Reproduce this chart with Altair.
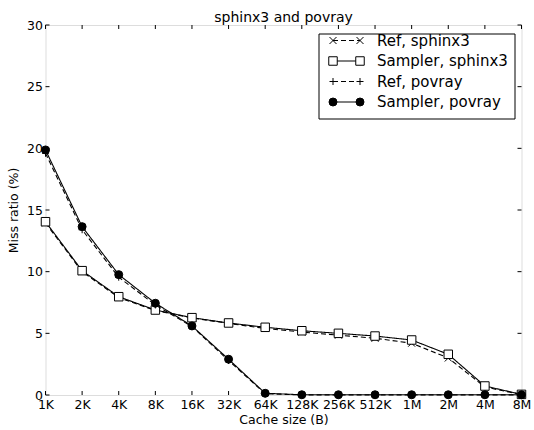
import altair as alt
import pandas as pd

cats = ["1K", "2K", "4K", "8K", "16K", "32K", "64K", "128K", "256K", "512K", "1M", "2M", "4M", "8M"]
ref_sphinx3 = [13.95, 10.0, 7.9, 6.85, 6.25, 5.8, 5.4, 5.1, 4.85, 4.6, 4.2, 3.0, 0.65, 0.03]
samp_sphinx3 = [14.05, 10.08, 7.97, 6.89, 6.27, 5.84, 5.49, 5.21, 5.0, 4.78, 4.46, 3.3, 0.73, 0.05]
ref_povray = [19.6, 13.4, 9.55, 7.3, 5.55, 2.8, 0.1, 0.01, 0.01, 0.01, 0.01, 0.01, 0.01, 0.01]
samp_povray = [19.87, 13.65, 9.76, 7.44, 5.6, 2.9, 0.14, 0.02, 0.02, 0.02, 0.02, 0.02, 0.02, 0.02]
y_ticks = [0, 5, 10, 15, 20, 25, 30]

series_names = ["Ref, sphinx3", "Sampler, sphinx3", "Ref, povray", "Sampler, povray"]
series_vals = [ref_sphinx3, samp_sphinx3, ref_povray, samp_povray]

rows = []
for name, vals in zip(series_names, series_vals):
    for c, v in zip(cats, vals):
        rows.append({"size": c, "ratio": v, "series": name})
df = pd.DataFrame(rows)

W, H = 476, 370
OX, OY = 45.5, 25
FONT = "DejaVu Sans"
X_PATH = "M-1,-1L1,1M-1,1L1,-1"
P_PATH = "M-1,0L1,0M0,-1L0,1"

styles = {
    "Ref, sphinx3": dict(dash=[5, 3], shape=X_PATH, size=49, filled=False, fill="transparent"),
    "Sampler, sphinx3": dict(dash=[1, 0], shape="square", size=72, filled=True, fill="white"),
    "Ref, povray": dict(dash=[5, 3], shape=P_PATH, size=49, filled=False, fill="transparent"),
    "Sampler, povray": dict(dash=[1, 0], shape="circle", size=64, filled=True, fill="black"),
}

xscale = alt.Scale(type="point", padding=0)
yscale = alt.Scale(domain=[0, 30], nice=False)

x_axis = alt.Axis(orient="bottom", title="Cache size (B)", ticks=False, domain=False, grid=False,
                  labelAngle=0, labelPadding=3, labelFontSize=12.5, titleFontSize=12.5,
                  titleFontWeight="normal", titlePadding=3, labelFont=FONT, titleFont=FONT,
                  labelColor="black", titleColor="black")
y_axis = alt.Axis(orient="left", title="Miss ratio (%)", ticks=False, domain=False, grid=False,
                  values=y_ticks, labelPadding=3, labelFontSize=12.5,
                  titleFontSize=12.5, titleFontWeight="normal", titlePadding=6,
                  labelFont=FONT, titleFont=FONT, labelColor="black", titleColor="black")

X = alt.X("size:O", sort=cats, scale=xscale, axis=x_axis)
Y = alt.Y("ratio:Q", scale=yscale, axis=y_axis)

base = alt.Chart(df)
layers = []
for name in series_names:
    st = styles[name]
    line = base.transform_filter(alt.datum.series == name).mark_line(
        color="black", strokeWidth=1.1, strokeDash=st["dash"]
    ).encode(x=X, y=Y)
    pts = base.transform_filter(alt.datum.series == name).mark_point(
        shape=st["shape"], size=st["size"], filled=st["filled"], fill=st["fill"],
        stroke="black", strokeWidth=1, opacity=1
    ).encode(x=X, y=Y)
    layers += [line, pts]

# inward tick marks on all four sides (positioned by the scales)
xt = pd.DataFrame({"size": cats})
yt = pd.DataFrame({"ratio": y_ticks})
tick_layers = [
    alt.Chart(xt).mark_rule(color="black", strokeWidth=1).encode(
        x=X, y=alt.value(H), y2=alt.value(H - 4)),
    alt.Chart(xt).mark_rule(color="black", strokeWidth=1).encode(
        x=X, y=alt.value(0), y2=alt.value(4)),
    alt.Chart(yt).mark_rule(color="black", strokeWidth=1).encode(
        y=Y, x=alt.value(0), x2=alt.value(4)),
    alt.Chart(yt).mark_rule(color="black", strokeWidth=1).encode(
        y=Y, x=alt.value(W - 4), x2=alt.value(W)),
]

# legend box (coordinates relative to the plot origin)
leg_x0, leg_x1, leg_y0, leg_y1 = 319 - OX, 515 - OX, 34 - OY, 119 - OY
legend_layers = [
    alt.Chart(pd.DataFrame({"k": [0]})).mark_rect(fill="white", stroke="black", strokeWidth=1).encode(
        x=alt.value(leg_x0), x2=alt.value(leg_x1), y=alt.value(leg_y0), y2=alt.value(leg_y1))
]
row_y = [40.5 - OY, 61 - OY, 81.5 - OY, 102 - OY]
for name, ry in zip(series_names, row_y):
    st = styles[name]
    d = pd.DataFrame({"label": [name]})
    legend_layers.append(
        alt.Chart(d).mark_rule(color="black", strokeWidth=1.1, strokeDash=st["dash"]).encode(
            x=alt.value(333 - OX), x2=alt.value(360 - OX), y=alt.value(ry)))
    for px in (333, 360):
        legend_layers.append(
            alt.Chart(d).mark_point(shape=st["shape"], size=st["size"], filled=st["filled"],
                                    fill=st["fill"], stroke="black", strokeWidth=1, opacity=1).encode(
                x=alt.value(px - OX), y=alt.value(ry)))
    legend_layers.append(
        alt.Chart(d).mark_text(align="left", baseline="middle", font=FONT, fontSize=15,
                               color="black").encode(
            x=alt.value(377 - OX), y=alt.value(ry), text="label:N"))

chart = alt.layer(*layers, *tick_layers, *legend_layers).properties(
    width=W, height=H,
    title=alt.TitleParams("sphinx3 and povray", font=FONT, fontSize=14, fontWeight="normal",
                          color="black", offset=-6),
    autosize=alt.AutoSizeParams(type="none"),
    padding={"left": OX, "top": OY, "right": 534 - OX - W, "bottom": 430 - OY - H},
).configure_view(stroke="black", strokeWidth=1).configure_axis(grid=False).configure(background="white")

chart.save("out.html", embed_options={"renderer": "svg", "actions": False})
